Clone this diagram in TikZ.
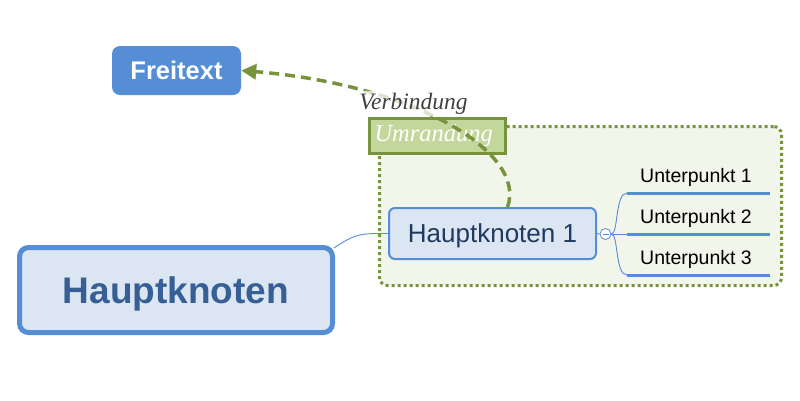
\documentclass[tikz,border=0pt]{standalone}
\usepackage{fontspec}
\setmainfont{Liberation Sans}
\newfontfamily\serifit{Liberation Serif}
\usetikzlibrary{arrows.meta,calc}
\definecolor{mmblue}{HTML}{558ED5}
\definecolor{mmlight}{HTML}{DCE6F2}
\definecolor{mmdark}{HTML}{355F95}
\definecolor{mmnavy}{HTML}{1F3A5F}
\definecolor{olive}{HTML}{77933C}
\definecolor{olivelight}{HTML}{C3D69B}
\definecolor{framefill}{HTML}{F2F5EA}
\definecolor{labelgray}{HTML}{404040}
\tikzset{
  bigtopic/.style={draw=mmblue, line width=5pt, fill=mmlight, rounded corners=9pt,
    minimum width=313pt, minimum height=85pt, inner sep=0pt, text depth=0pt,
    text=mmdark, font=\fontsize{37}{40}\selectfont\bfseries},
  topic/.style={draw=mmblue, line width=2pt, fill=mmlight, rounded corners=6pt,
    minimum width=207pt, minimum height=51pt, inner sep=0pt, text depth=0pt,
    text=mmnavy, font=\fontsize{26}{30}\selectfont},
  freebox/.style={fill=mmblue, rounded corners=8pt, minimum width=129pt,
    minimum height=49pt, inner sep=0pt, text=white,
    font=\fontsize{25.5}{30}\selectfont\bfseries},
  framebox/.style={draw=olive, fill=framefill, line width=3pt,
    dash pattern=on 3pt off 3pt, rounded corners=8pt,
    minimum width=402pt, minimum height=159pt, inner sep=0pt},
  framelabel/.style={draw=olive, fill=olivelight, line width=3pt,
    minimum width=136pt, minimum height=35pt, inner xsep=0pt, inner ysep=0pt,
    text width=126pt, align=left, text=white,
    font=\fontsize{24.5}{26}\selectfont\serifit\itshape},
  connlabel/.style={fill=white, fill opacity=0.75, text opacity=1, inner sep=2pt,
    text=labelgray, font=\fontsize{23.5}{26}\selectfont\serifit\itshape},
  subtopic/.style={anchor=south, minimum width=143pt, inner xsep=0pt, inner ysep=11pt,
    outer sep=0pt, text depth=0pt, text=black, font=\fontsize{19.5}{22}\selectfont},
  subline/.style={draw=mmblue, line width=3pt},
  thinconn/.style={draw=mmblue, line width=0.9pt},
  toggle/.style={circle, draw=mmblue, fill=white, line width=0.8pt,
    minimum size=11pt, inner sep=0pt},
  dconn/.style={draw=olive, line width=3.5pt, dash pattern=on 10pt off 6pt,
    -{Triangle[length=15pt,width=15pt]}},
}
\begin{document}
\begin{tikzpicture}[x=1pt,y=-1pt]
\useasboundingbox[fill=white] (0,0) rectangle (800,400);
% boundary
\node[framebox] (frame) at (580.5,206) {};
% nodes
\node[bigtopic] (hk) at (176,290) {Hauptknoten};
\node[topic] (hk1) at (492.5,233.5) {Hauptknoten 1};
\node[freebox] (free) at (176.5,70.5) {Freitext};
\node[toggle] (tog) at (605.5,234) {};
\draw[mmblue, line width=0.8pt] ([xshift=-3]tog.center) -- ([xshift=3]tog.center);
\node[subtopic] (u1) at (698.5,193) {\hspace*{-5pt}Unterpunkt 1};
\node[subtopic] (u2) at (698.5,234) {\hspace*{-5pt}Unterpunkt 2};
\node[subtopic] (u3) at (698.5,275) {\hspace*{-5pt}Unterpunkt 3};
% connectors
\draw[thinconn] ($(hk.north east)+(-1,3)$) .. controls +(18,-12) and +(-20,0) .. ($(hk1.west)+(-10,0)$) -- (hk1.west);
\draw[thinconn] (hk1.east) -- (tog.west);
\draw[thinconn] (tog.east) .. controls +(7,0) and +(-12,0) .. (u1.south west);
\draw[thinconn] (tog.east) -- (u2.south west);
\draw[thinconn] (tog.east) .. controls +(7,0) and +(-12,0) .. (u3.south west);
\draw[subline] (u1.south west) -- (u1.south east);
\draw[subline] (u2.south west) -- (u2.south east);
\draw[subline] (u3.south west) -- (u3.south east);
% boundary label
\node[framelabel] (ulab) at (437.5,136) {Umrandung};
% relationship
\draw[dconn] ([xshift=15]hk1.north) .. controls +(20,-55) and +(172,14) .. (free.east);
\node[connlabel, anchor=base] (vlab) at (413.5,109) {Verbindung};
\end{tikzpicture}
\end{document}
